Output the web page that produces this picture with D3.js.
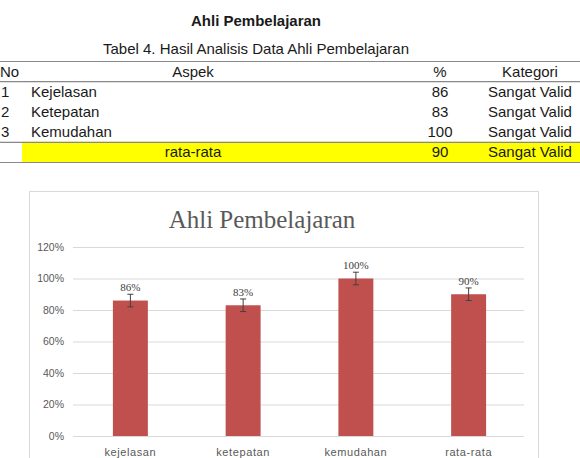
<!DOCTYPE html>
<html>
<head>
<meta charset="utf-8">
<script src="https://cdn.jsdelivr.net/npm/d3@7"></script>
<style>
  body { margin: 0; background: #fff; }
  svg { display: block; }
</style>
</head>
<body>
<div id="page"></div>
<script>
// Table data
var tableNo = ["1", "2", "3", ""];
var tableAspek = ["Kejelasan", "Ketepatan", "Kemudahan", "rata-rata"];
var tablePersen = [86, 83, 100, 90];
var tableKategori = ["Sangat Valid", "Sangat Valid", "Sangat Valid", "Sangat Valid"];

// Chart data
var categories = ["kejelasan", "ketepatan", "kemudahan", "rata-rata"];
var values = [86, 83, 100, 90];
var errors = [4, 4, 4, 4];
var yTicks = [0, 20, 40, 60, 80, 100, 120];

var svgWidth = 580;
var svgHeight = 458;

var svg = d3.select("#page")
  .append("svg")
  .attr("width", svgWidth)
  .attr("height", svgHeight);

var sans = "'Liberation Sans', Arial, sans-serif";
var serif = "'Liberation Serif', 'Times New Roman', serif";

// Heading + caption
svg.append("text")
  .attr("x", 256).attr("y", 26)
  .attr("text-anchor", "middle")
  .style("font-family", sans).style("font-size", "15px").style("font-weight", "bold")
  .attr("fill", "#1a1a1a")
  .text("Ahli Pembelajaran");

svg.append("text")
  .attr("x", 256).attr("y", 54)
  .attr("text-anchor", "middle")
  .style("font-family", sans).style("font-size", "15px")
  .attr("fill", "#1a1a1a")
  .text("Tabel 4. Hasil Analisis Data Ahli Pembelajaran");

// Table
//================================
var rowY = d3.scaleBand()
  .domain(d3.range(tableAspek.length + 1))
  .range([61, 162]);

var table = svg.append("g");

// yellow average row
var last = tableAspek.length;
table.append("rect")
  .attr("x", 22).attr("y", rowY(last))
  .attr("width", 580 - 22).attr("height", rowY.bandwidth())
  .attr("fill", "#ffff00");

[61, rowY(1), rowY(last), 162].forEach(function(y) {
  table.append("line")
    .attr("x1", 0).attr("x2", 580)
    .attr("y1", y + 0.5).attr("y2", y + 0.5)
    .attr("stroke", "#888").attr("stroke-width", 1.2);
});

function cell(x, row, txt, anchor) {
  table.append("text")
    .attr("x", x).attr("y", rowY(row) + rowY.bandwidth() / 2)
    .attr("dy", "0.36em")
    .attr("text-anchor", anchor)
    .style("font-family", sans).style("font-size", "15px")
    .attr("fill", "#1a1a1a")
    .text(txt);
}

cell(0, 0, "No", "start");
cell(193, 0, "Aspek", "middle");
cell(440, 0, "%", "middle");
cell(530, 0, "Kategori", "middle");

tableAspek.forEach(function(a, i) {
  cell(1, i + 1, tableNo[i], "start");
  if (i === last - 1) cell(193, i + 1, a, "middle");
  else cell(31, i + 1, a, "start");
  cell(440, i + 1, tablePersen[i], "middle");
  cell(530, i + 1, tableKategori[i], "middle");
});

// Chart
//================================
svg.append("rect")
  .attr("x", 29.5).attr("y", 191.5)
  .attr("width", 509).attr("height", 280)
  .attr("fill", "#fff")
  .attr("stroke", "#d9d9d9");

svg.append("text")
  .attr("x", 262).attr("y", 228)
  .attr("text-anchor", "middle")
  .style("font-family", serif).style("font-size", "25px")
  .attr("fill", "#595959")
  .text("Ahli Pembelajaran");

var xBand = d3.scaleBand()
  .domain(categories)
  .range([73, 524]);

var yLinear = d3.scaleLinear()
  .domain([0, 120])
  .range([436, 247]);

var leftAxis = d3.axisLeft(yLinear)
  .tickValues(yTicks)
  .tickSize(-(524 - 73))
  .tickPadding(9)
  .tickFormat(d => d + "%");

var yAxis = svg.append("g")
  .attr("transform", "translate(73, 0)")
  .call(leftAxis);

yAxis.select(".domain").remove();
yAxis.selectAll(".tick line").attr("stroke", "#d9d9d9");
yAxis.selectAll(".tick text")
  .attr("fill", "#595959")
  .style("font-family", sans).style("font-size", "10.5px");

var barW = xBand.bandwidth() * 0.31;

svg.selectAll(".bar")
  .data(values)
  .enter()
  .append("rect")
  .attr("class", "bar")
  .attr("x", (d, i) => xBand(categories[i]) + (xBand.bandwidth() - barW) / 2 + 1)
  .attr("y", d => yLinear(d))
  .attr("width", barW)
  .attr("height", d => yLinear(0) - yLinear(d))
  .attr("fill", "#c0504d");

// error bars
var eb = svg.append("g").attr("stroke", "#404040").attr("stroke-width", 1);
values.forEach(function(v, i) {
  var cx = xBand(categories[i]) + xBand.bandwidth() / 2 + 1;
  var y1 = yLinear(v + errors[i]);
  var y2 = yLinear(v - errors[i]);
  eb.append("line").attr("x1", cx).attr("x2", cx).attr("y1", y1).attr("y2", y2);
  eb.append("line").attr("x1", cx - 3).attr("x2", cx + 3).attr("y1", y1).attr("y2", y1);
  eb.append("line").attr("x1", cx - 3).attr("x2", cx + 3).attr("y1", y2).attr("y2", y2);
});

// data labels, sitting just above the error bar caps
svg.selectAll(".dlabel")
  .data(values)
  .enter()
  .append("text")
  .attr("class", "dlabel")
  .attr("x", (d, i) => xBand(categories[i]) + xBand.bandwidth() / 2 + 1)
  .attr("y", (d, i) => yLinear(d + errors[i]) - 3)
  .attr("text-anchor", "middle")
  .style("font-family", serif).style("font-size", "11px")
  .attr("fill", "#404040")
  .text(d => d + "%");

// category labels
svg.selectAll(".clabel")
  .data(categories)
  .enter()
  .append("text")
  .attr("class", "clabel")
  .attr("x", d => xBand(d) + xBand.bandwidth() / 2 + 1)
  .attr("y", 456)
  .attr("text-anchor", "middle")
  .style("font-family", sans).style("font-size", "11px")
  .style("letter-spacing", "0.6px")
  .attr("fill", "#595959")
  .text(d => d);
</script>
</body>
</html>
